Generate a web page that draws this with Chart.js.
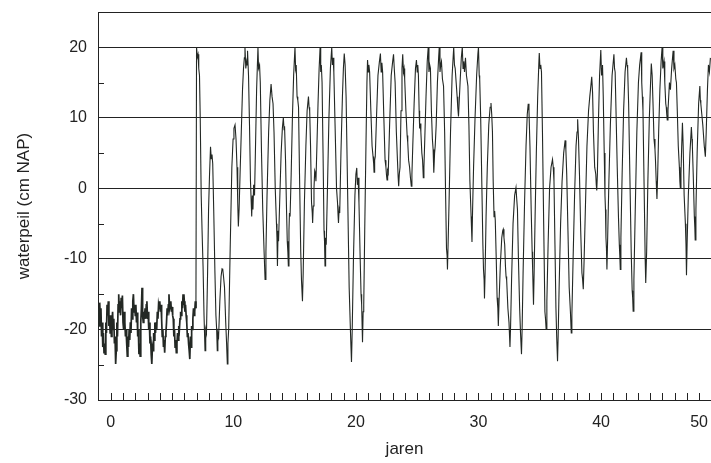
<!DOCTYPE html>
<html><head><meta charset="utf-8">
<script src="https://cdn.jsdelivr.net/npm/chart.js@4"></script>
<style>html,body{margin:0;padding:0;background:#fff;}#wrap{width:711px;height:463px;position:relative;}</style>
</head><body><div id="wrap"><canvas id="c" width="711" height="463"></canvas></div>
<script>
// Early, low and noisy period (years -1 .. 7)
const earlyYears = [
-1.00,-0.95,-0.90,-0.85,-0.80,-0.75,-0.70,-0.65,-0.60,-0.55,
-0.50,-0.45,-0.40,-0.35,-0.30,-0.25,-0.20,-0.15,-0.10,-0.05,
0.00,0.05,0.10,0.15,0.20,0.25,0.30,0.35,0.40,0.45,
0.50,0.55,0.60,0.65,0.70,0.75,0.80,0.85,0.90,0.95,
1.00,1.05,1.10,1.15,1.20,1.25,1.30,1.35,1.40,1.45,
1.50,1.55,1.60,1.65,1.70,1.75,1.80,1.85,1.90,1.95,
2.00,2.05,2.10,2.15,2.20,2.25,2.30,2.35,2.40,2.45,
2.50,2.55,2.60,2.65,2.70,2.75,2.80,2.85,2.90,2.95,
3.00,3.05,3.10,3.15,3.20,3.25,3.30,3.35,3.40,3.45,
3.50,3.55,3.60,3.65,3.70,3.75,3.80,3.85,3.90,3.95,
4.00,4.05,4.10,4.15,4.20,4.25,4.30,4.35,4.40,4.45,
4.50,4.55,4.60,4.65,4.70,4.75,4.80,4.85,4.90,4.95,
5.00,5.05,5.10,5.15,5.20,5.25,5.30,5.35,5.40,5.45,
5.50,5.55,5.60,5.65,5.70,5.75,5.80,5.85,5.90,5.95,
6.00,6.05,6.10,6.15,6.20,6.25,6.30,6.35,6.40,6.45,
6.50,6.55,6.60,6.65,6.70,6.75,6.80,6.85,6.90,6.95
];
const earlyLevels = [
-17,-19.5,-16.2,-18.5,-17,-21,-19,-22.5,-20.5,-23.3,
-22,-23.5,-19,-20.5,-16.5,-18,-16,-19.5,-18,-20.5,
-18,-21,-19,-17.5,-20,-18.5,-22,-21,-24.9,-23,
-19,-21,-16.5,-15,-17.5,-16,-18,-15.5,-17,-15.2,
-19,-20,-17.5,-19,-21,-20,-22,-23.8,-21,-22.5,
-20,-21.5,-19,-20.5,-17,-18.5,-16,-15,-17.5,-16.5,
-18,-16.5,-19,-17.6,-21,-20,-23.5,-22,-23.8,-19,
-17,-14.1,-18,-19,-17.5,-18.5,-17,-18.5,-16.5,-16,
-18.5,-17.5,-20,-19,-22,-21,-23.5,-24.9,-22.5,-23,
-20.5,-21.5,-19,-20.5,-19,-20,-17.5,-18.5,-16.5,-17,
-16,-17.5,-16.5,-18.5,-21,-20,-22.5,-21.5,-23.3,-21,
-20.5,-19,-17,-18,-16.5,-15,-17,-16.5,-16,-17.5,
-16.8,-18,-18.5,-21,-20,-22.5,-21.5,-23.3,-22,-20.5,
-21.5,-19.5,-20,-18.5,-17.5,-18,-16,-17,-15,-16.5,
-16,-17.5,-16.5,-18,-19,-21,-20.5,-22,-23,-24.2,
-21,-22.5,-19.5,-20,-18.5,-17,-18,-17.5,-16,-17
];
// Later period with large yearly swings (years 7 .. 49)
const laterYears = [
7.00,7.06,7.12,7.18,7.24,7.30,7.38,7.45,7.53,7.61,
7.69,7.75,7.81,7.90,7.98,8.06,8.14,8.20,8.26,8.32,
8.40,8.50,8.58,8.64,8.69,8.74,8.80,8.90,9.00,9.08,
9.14,9.20,9.28,9.38,9.45,9.51,9.56,9.62,9.75,9.88,
9.98,10.05,10.14,10.22,10.30,10.36,10.41,10.47,10.55,10.65,
10.75,10.83,10.90,10.95,11.02,11.07,11.12,11.16,11.24,11.32,
11.40,11.45,11.50,11.55,11.60,11.66,11.73,11.80,11.90,12.01,
12.06,12.14,12.20,12.30,12.40,12.51,12.59,12.66,12.75,12.88,
12.98,13.08,13.16,13.24,13.32,13.42,13.52,13.56,13.60,13.65,
13.69,13.78,13.90,14.00,14.08,14.14,14.18,14.26,14.34,14.40,
14.45,14.49,14.54,14.58,14.63,14.72,14.82,14.92,15.03,15.08,
15.13,15.20,15.26,15.32,15.40,15.50,15.56,15.64,15.70,15.80,
15.92,16.02,16.13,16.18,16.23,16.30,16.38,16.44,16.47,16.52,
16.58,16.64,16.69,16.74,16.82,16.91,17.00,17.08,17.13,17.18,
17.24,17.32,17.40,17.44,17.48,17.53,17.58,17.68,17.80,17.92,
18.03,18.08,18.14,18.20,18.30,18.42,18.50,18.55,18.58,18.63,
18.68,18.78,18.90,18.98,19.05,19.12,19.20,19.32,19.45,19.56,
19.64,19.70,19.80,19.92,20.00,20.07,20.12,20.18,20.25,20.35,
20.42,20.47,20.54,20.59,20.64,20.72,20.82,20.90,20.95,21.01,
21.06,21.12,21.22,21.32,21.40,21.45,21.48,21.53,21.58,21.68,
21.80,21.92,22.00,22.06,22.12,22.18,22.28,22.38,22.45,22.50,
22.54,22.59,22.64,22.75,22.88,23.00,23.07,23.13,23.20,23.30,
23.39,23.45,23.49,23.54,23.60,23.68,23.76,23.82,23.88,23.93,
23.98,24.08,24.18,24.23,24.30,24.38,24.45,24.52,24.57,24.64,
24.75,24.86,24.94,25.00,25.05,25.10,25.16,25.20,25.25,25.30,
25.38,25.44,25.50,25.55,25.62,25.72,25.82,25.90,25.96,26.02,
26.08,26.16,26.24,26.30,26.34,26.37,26.42,26.47,26.55,26.65,
26.75,26.80,26.86,26.92,26.98,27.06,27.15,27.24,27.32,27.39,
27.44,27.47,27.52,27.60,27.72,27.85,27.98,28.04,28.10,28.18,
28.26,28.31,28.37,28.42,28.50,28.60,28.68,28.74,28.80,28.86,
28.94,29.02,29.14,29.22,29.30,29.36,29.40,29.47,29.52,29.60,
29.72,29.85,29.95,30.00,30.06,30.10,30.18,30.28,30.36,30.41,
30.46,30.49,30.54,30.62,30.72,30.84,30.95,31.02,31.08,31.14,
31.20,31.27,31.32,31.37,31.45,31.52,31.58,31.62,31.68,31.78,
31.90,31.98,32.02,32.08,32.14,32.20,32.25,32.30,32.40,32.49,
32.57,32.62,32.70,32.82,32.95,33.06,33.12,33.18,33.26,33.36,
33.43,33.51,33.56,33.64,33.76,33.88,33.98,34.06,34.12,34.20,
34.30,34.38,34.42,34.49,34.54,34.62,34.72,34.83,34.92,34.96,
35.02,35.08,35.14,35.22,35.32,35.42,35.47,35.52,35.58,35.68,
35.80,35.92,36.04,36.10,36.16,36.24,36.32,36.38,36.45,36.50,
36.58,36.70,36.82,36.95,37.07,37.13,37.20,37.30,37.40,37.50,
37.57,37.62,37.72,37.84,37.96,38.04,38.09,38.16,38.24,38.34,
38.44,38.49,38.55,38.62,38.72,38.85,38.98,39.08,39.14,39.24,
39.31,39.38,39.48,39.57,39.61,39.65,39.70,39.78,39.88,39.98,
40.04,40.09,40.12,40.18,40.26,40.32,40.36,40.40,40.44,40.48,
40.54,40.64,40.76,40.90,41.05,41.10,41.15,41.22,41.32,41.42,
41.49,41.53,41.57,41.62,41.72,41.84,41.96,42.07,42.12,42.17,
42.25,42.35,42.46,42.54,42.58,42.62,42.68,42.78,42.92,43.05,
43.15,43.27,43.32,43.37,43.42,43.48,43.55,43.60,43.63,43.66,
43.72,43.82,43.94,44.04,44.10,44.17,44.24,44.32,44.40,44.44,
44.50,44.56,44.62,44.70,44.80,44.90,44.98,45.04,45.09,45.14,
45.20,45.28,45.32,45.36,45.40,45.46,45.58,45.66,45.76,45.88,
45.95,46.02,46.10,46.15,46.22,46.30,46.39,46.43,46.47,46.52,
46.58,46.64,46.70,46.78,46.88,46.93,46.97,47.02,47.12,47.25,
47.37,47.42,47.45,47.52,47.61,47.65,47.68,47.74,47.84,47.96,
48.06,48.10,48.14,48.22,48.30,48.42,48.51,48.58,48.68,48.76,
48.84,48.92
];
const laterLevels = [
20,18.6,19,17,16,10,-1,-6,-11,-18,
-23,-20,-20.5,-12,-3,2,5.9,4.2,4.8,3.5,
-3,-12,-18,-20,-23,-20.5,-21,-16,-12.5,-11.4,
-11.5,-12.5,-14,-19,-22,-24.9,-22,-20,-8,3,
7,8.5,9,7,3,-2,-5.4,-3,2,8,
14,17,18.5,20,17,18,17.5,19.5,16,9,
1,-1.5,-4,-1,-3,0.5,-1,5,14,20,
17,17.5,15,5,-3,-9,-12.9,-9,-1,8,
12.5,14.8,13,12,8,0,-5,-7,-11,-6,
-7.5,-2,5,8.5,10,8.3,8.8,4,-3,-7.5,
-9,-11,-6,-3.5,-4,2,10,16,20,17,
17.5,13,12.5,11.5,2,-9,-13,-16,-12,-2,
6,11,13,11.5,11,6,-2,-3.5,-4.9,-2.5,
0,2.5,2.2,1,6,12,17,20,16.5,17.5,
15,5,-6,-7.5,-11,-7,-8,0,10,17,
20,17.5,18.5,16.5,9,0,-2,-4,-4.9,-3,
-3.5,5,13,17,19.1,17.5,13,0,-14,-20.5,
-24.6,-20,-10,-1,2,2.9,0.5,1.5,-2,-10,
-15,-16.5,-21.8,-17.5,-16.5,-6,6,15,18.2,16.5,
17.5,16.5,11,6,4.5,3.5,2.3,4,4.5,10,
16,18,19.1,16.5,17.8,16.5,10,4,3,1.8,
1.2,2.5,2.2,9,16,18,19,17,15,8,
4,1.5,0.3,2,3,11,17,19,16.5,17,
15.5,11,7.5,6.5,4,3,1.5,0.3,2,6,
12,17,18.2,16.5,17.5,16,11,8.5,9.2,8,
5,4,1.5,3,7,13,18,20,16.5,17.5,
17,11,7,5.5,3.5,2.2,5,6,9,15,
18.5,20,16.5,17.5,18,15.5,14.5,8,-1,-8.5,
-9.5,-11.5,-8,-2,8,16,20,17.5,17,15,
13,11.5,10.2,12,15,18.5,20,17,18,16.5,
18.5,16,14.5,9,1,-2,-4,-7.6,-3,3,
10,16,19,20,16,15.5,10,0,-8,-11.5,
-13,-15.6,-12,-4,3,9,11.5,12.1,10.5,8,
1,-4,-3.2,-4.5,-10,-15.5,-17,-19.5,-16,-11,
-7,-6,-5.8,-7,-8,-11,-12.5,-13,-17,-19,
-22.5,-19.5,-13,-5,-1,0.1,-1.5,-3,-10,-17,
-20.5,-23.5,-20,-12,-2,6,10.5,12,11,6,
-3,-9,-11.5,-16.5,-12,-4,5,13,17.5,19.2,
17,17.5,16.5,8,-5,-17.5,-18.5,-20,-16,-8,
0,3,4.1,3,1,-8,-17,-21,-24.5,-21,
-14,-5,1,5,6.8,5.5,2,-6,-14,-17.5,
-20.5,-18,-10,-1,6,8,9.8,7,2,-6,
-12,-12.8,-14.3,-10,-3,6,11,13,14,15.8,
13.5,8,3,2,0.5,-0.3,2,9,16,19.6,
16,17,17.5,13,5,-1,-3,-7,-8.5,-11.5,
-7,1,9,16,19,17,16.5,11,3,-4,
-8,-9.5,-11.5,-7,2,11,16.5,18.5,17.5,17,
12,2,-9,-14.5,-15.5,-17.4,-13,-4,8,15,
17.5,19.3,15,13,11,4,-4,-10,-11,-13.4,
-9,1,10,15,17.7,16,12,7,5.5,4,
1,-1.5,2,8,14,18,20,17,17.5,18,
15,12,11.5,10.5,9.7,11,15,14,17,19.5,
17,17.5,15.5,15,11,6,3,1,0,2,
6,9.3,6,-1,-5,-8,-12.3,-8,-1,5,
8.7,7,6,2,-4,-5.5,-7.3,-3,5,12,
14.5,12.5,12,10.5,9,6,4.5,8,14,17.5,
16.5,18.5
];
const xTickValues = [0, 10, 20, 30, 40, 48];
const xTickLabels = ['0', '10', '20', '30', '40', '50'];
const yTickValues = [-30, -20, -10, 0, 10, 20];
const yMinorTicks = [-25, -15, -5, 5, 15];
const yearTicks = [0,1,2,3,4,5,6,7,8,9,10,11,12,13,14,15,16,17,18,19,20,21,22,23,24,25,26,27,28,29,30,31,32,33,34,35,36,37,38,39,40,41,42,43,44,45,46,47,48];
const xTitle = 'jaren';
const yTitle = 'waterpeil (cm NAP)';

const INK = '#222';
const FONT = 'Liberation Sans, Arial, Helvetica, sans-serif';

const minorTicks = {
  id: 'minorTicks',
  afterDraw(chart) {
    const {ctx, chartArea: a, scales: {x, y}} = chart;
    ctx.save();
    ctx.strokeStyle = INK;
    ctx.lineWidth = 1;
    ctx.beginPath();
    yearTicks.forEach(v => {
      const px = Math.round(x.getPixelForValue(v)) + 0.5;
      ctx.moveTo(px, a.bottom);
      ctx.lineTo(px, a.bottom - 7);
    });
    yMinorTicks.forEach(v => {
      const py = Math.round(y.getPixelForValue(v)) + 0.5;
      ctx.moveTo(a.left, py);
      ctx.lineTo(a.left + 6, py);
    });
    ctx.stroke();
    ctx.restore();
  }
};

const allYears = earlyYears.concat(laterYears);
const allLevels = earlyLevels.concat(laterLevels);
const points = allYears.map((yr, i) => ({x: yr, y: allLevels[i]}));
const noisyEnd = earlyYears.length - 1;

new Chart(document.getElementById('c').getContext('2d'), {
  type: 'line',
  data: {datasets: [{
    data: points, borderColor: '#232824', borderWidth: 1.1, pointRadius: 0, tension: 0, fill: false,
    segment: {borderWidth: ctx => (ctx.p1DataIndex <= noisyEnd ? 1.7 : 1.1)}
  }]},
  options: {
    responsive: false,
    animation: false,
    events: [],
    layout: {padding: {top: 12, right: 0, left: 0, bottom: 0}},
    plugins: {legend: {display: false}, tooltip: {enabled: false}},
    scales: {
      x: {
        type: 'linear', position: 'bottom', min: -1.04, max: 48.97,
        afterBuildTicks: s => { s.ticks = xTickValues.map(v => ({value: v})); },
        afterFit: s => { s.height = 63; s.paddingLeft = 0; s.paddingRight = 0; },
        grid: {display: false, drawTicks: false},
        border: {display: true, color: INK, width: 1},
        ticks: {callback: (v, i) => xTickLabels[i], font: {family: FONT, size: 16}, color: INK, padding: 13, maxRotation: 0, autoSkip: false},
        title: {display: true, text: xTitle, font: {family: FONT, size: 17}, color: INK, padding: {top: 0, bottom: 3}}
      },
      xTop: {
        type: 'linear', axis: 'x', position: 'top', min: -1.04, max: 48.97,
        afterFit: s => { s.height = 0; s.paddingLeft = 0; s.paddingRight = 0; },
        grid: {display: false, drawTicks: false},
        border: {display: true, color: INK, width: 1},
        ticks: {display: false}
      },
      y: {
        min: -30, max: 25,
        afterBuildTicks: s => { s.ticks = yTickValues.map(v => ({value: v})); },
        afterFit: s => { s.width = 98; s.paddingTop = 0; s.paddingBottom = 0; },
        grid: {color: INK, lineWidth: 1, drawTicks: false},
        border: {display: true, color: INK, width: 1},
        ticks: {font: {family: FONT, size: 16}, color: INK, padding: 11},
        title: {display: true, text: yTitle, font: {family: FONT, size: 17}, color: INK, padding: {top: 14, bottom: 0}}
      }
    }
  },
  plugins: [minorTicks]
});
</script>
</body></html>
